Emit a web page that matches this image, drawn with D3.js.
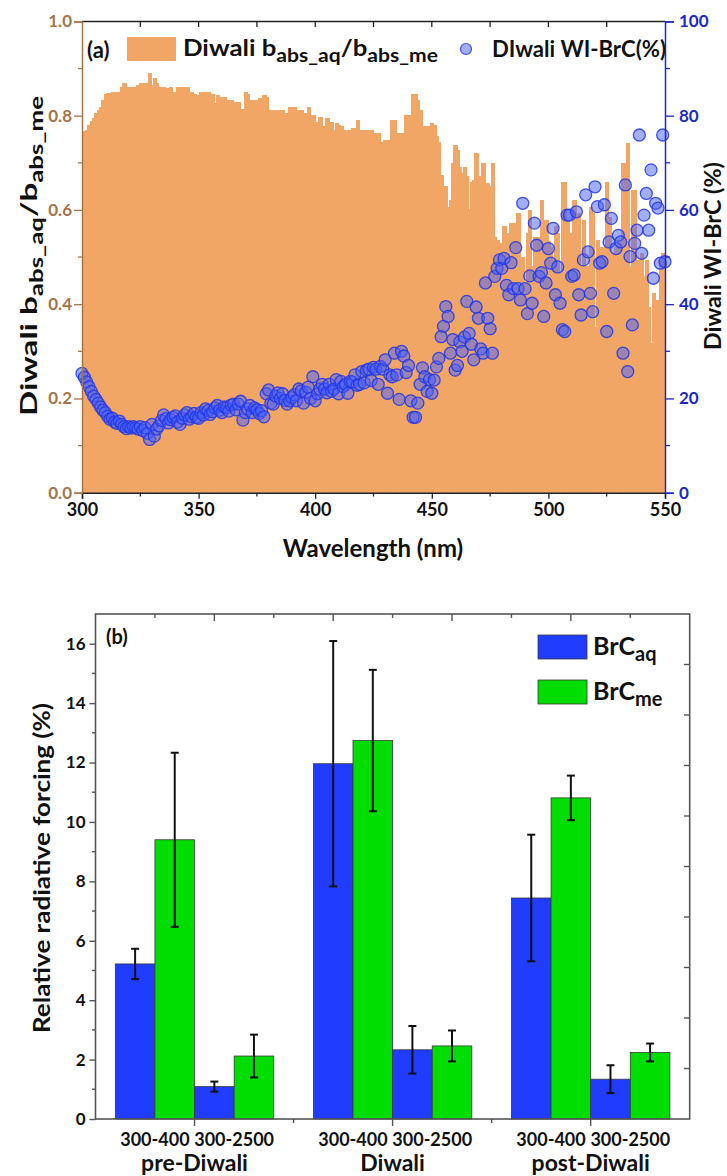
<!DOCTYPE html>
<html><head><meta charset="utf-8">
<script src="https://cdn.jsdelivr.net/npm/d3@7"></script>
<style>
body{margin:0;background:#fff}
text{font-family:Lato,'Open Sans',sans-serif;font-weight:700}
</style>
</head><body>
<svg id="c" width="727" height="1176"></svg>
<script>
// ---------- Panel (a) data ----------
const wavelengths = d3.range(300, 551); // 1 nm grid, 300–550 nm
const ratioAqMe = [
0.763,0.767,0.770,0.781,0.788,0.794,0.805,0.812,0.819,0.833,
0.847,0.849,0.849,0.851,0.849,0.851,0.851,0.861,0.870,0.861,
0.861,0.861,0.861,0.861,0.864,0.870,0.870,0.870,0.870,0.890,
0.864,0.879,0.870,0.861,0.861,0.861,0.858,0.844,0.861,0.851,
0.851,0.861,0.861,0.851,0.861,0.860,0.851,0.851,0.847,0.840,
0.844,0.851,0.844,0.851,0.851,0.847,0.847,0.826,0.844,0.826,
0.840,0.840,0.830,0.833,0.833,0.819,0.830,0.830,0.812,0.815,
0.851,0.847,0.833,0.833,0.833,0.833,0.837,0.837,0.844,0.840,
0.812,0.812,0.812,0.812,0.812,0.801,0.812,0.805,0.798,0.819,
0.819,0.819,0.812,0.812,0.812,0.805,0.805,0.819,0.784,0.801,
0.787,0.787,0.798,0.777,0.777,0.794,0.787,0.787,0.770,0.784,
0.780,0.777,0.770,0.770,0.770,0.763,0.774,0.774,0.791,0.770,
0.770,0.770,0.745,0.770,0.770,0.749,0.763,0.763,0.745,0.745,
0.749,0.749,0.721,0.791,0.791,0.749,0.763,0.763,0.702,0.801,
0.702,0.801,0.847,0.847,0.833,0.812,0.713,0.777,0.777,0.755,
0.784,0.780,0.756,0.745,0.674,0.650,0.650,0.607,0.621,0.699,
0.738,0.727,0.692,0.678,0.692,0.671,0.603,0.660,0.664,0.720,
0.671,0.611,0.699,0.565,0.657,0.650,0.699,0.543,0.536,0.529,
0.522,0.565,0.550,0.536,0.572,0.550,0.572,0.593,0.487,0.501,
0.444,0.550,0.600,0.480,0.543,0.522,0.543,0.621,0.536,0.579,
0.533,0.522,0.494,0.565,0.550,0.466,0.660,0.660,0.579,0.550,
0.459,0.621,0.522,0.593,0.480,0.579,0.423,0.480,0.607,0.593,
0.352,0.536,0.508,0.522,0.480,0.660,0.586,0.508,0.466,0.522,
0.536,0.480,0.699,0.600,0.741,0.480,0.642,0.642,0.494,0.246,
0.508,0.459,0.494,0.395,0.317,0.423,0.395,0.409,0.494,0.508,
0.508];
const wiBrC = [
25.3,24.5,23.5,22.5,21.5,20.5,19.8,19.0,18.2,17.5,
17.0,16.2,15.6,15.8,15.0,14.7,15.2,14.5,14.0,13.6,
14.0,13.7,14.0,13.8,13.5,14.0,13.2,13.8,12.6,11.3,
14.5,12.0,13.5,14.2,15.3,16.5,15.7,14.8,15.5,16.0,
16.3,15.0,14.5,15.8,16.5,17.0,15.6,16.1,16.8,16.0,
15.8,17.0,16.5,17.8,17.4,16.6,17.2,18.0,18.5,17.5,
17.0,18.2,18.0,17.3,18.6,18.8,17.6,18.8,19.4,15.4,
17.0,17.8,18.5,17.0,18.0,17.6,16.8,17.4,16.1,21.0,
21.8,19.0,18.8,20.5,21.2,20.0,21.0,19.6,18.8,19.5,
20.2,20.8,19.5,22.0,21.6,19.0,21.3,22.4,20.0,24.6,
19.5,21.0,22.0,23.0,22.0,21.2,23.0,21.5,22.0,24.0,
21.0,23.6,22.5,23.0,21.1,23.6,23.5,25.0,22.8,23.0,
25.7,23.3,26.0,26.2,23.8,26.6,26.2,23.0,26.8,26.2,
28.2,21.1,25.0,24.6,29.6,25.0,19.8,30.0,29.0,25.5,
27.0,19.5,16.0,16.0,19.0,23.0,26.5,24.6,21.5,24.0,
21.1,23.9,26.7,28.5,33.1,35.3,39.5,37.4,29.6,32.5,
26.0,27.0,32.0,30.0,33.0,40.6,33.8,31.5,28.2,39.4,
37.0,30.5,29.6,44.5,37.0,34.8,29.6,45.9,47.6,49.4,
47.6,49.7,44.0,42.0,48.8,43.3,52.0,43.3,40.9,61.4,
43.3,38.0,46.0,40.2,57.2,52.5,45.9,46.7,37.4,44.5,
51.8,48.7,56.1,42.0,47.9,40.2,34.6,34.2,58.9,58.9,
45.9,46.2,59.6,42.0,37.7,49.4,63.2,51.1,42.3,38.4,
64.9,60.7,48.7,49.0,61.1,34.2,53.2,58.2,42.3,51.8,
54.6,53.2,29.6,65.3,25.7,50.1,35.6,52.9,55.7,75.9,
50.8,58.9,63.5,55.7,68.5,45.5,61.4,60.4,48.7,75.9,
49.0];
const xTicksA = [300, 350, 400, 450, 500, 550];
const yTicksLeftA = [0, 0.2, 0.4, 0.6, 0.8, 1.0];
const yTicksRightA = [0, 20, 40, 60, 80, 100];

// ---------- Panel (b) data ----------
const periods = ["pre-Diwali", "Diwali", "post-Diwali"];
const bands = ["300-400", "300-2500"];
const aq400 = [5.22, 11.96, 7.44];
const aq400Err = [0.51, 4.13, 2.13];
const me400 = [9.40, 12.74, 10.81];
const me400Err = [2.93, 2.38, 0.75];
const aq2500 = [1.09, 2.33, 1.34];
const aq2500Err = [0.17, 0.80, 0.47];
const me2500 = [2.12, 2.46, 2.24];
const me2500Err = [0.72, 0.52, 0.30];
const yTicksB = [0, 2, 4, 6, 8, 10, 12, 14, 16];

const svg = d3.select("#c");
svg.append("rect").attr("width",727).attr("height",1176).attr("fill","#fff");

const ORANGE = "#f2a665", BROWN = "#a5764a", DBLUE = "#1c28c8";

// ================= Panel (a) =================
const xA = d3.scaleLinear().domain([300,550]).range([82,665]);
const yL = d3.scaleLinear().domain([0,1]).range([492.7,21.4]);
const yR = d3.scaleLinear().domain([0,100]).range([492.7,21.4]);

svg.append("clipPath").attr("id","clipA").append("rect")
  .attr("x",82).attr("y",21.4).attr("width",583).attr("height",471.3);

svg.append("g").attr("clip-path","url(#clipA)").attr("shape-rendering","crispEdges")
  .selectAll("rect").data(wavelengths).join("rect")
  .attr("x", d => Math.floor(xA(d-0.5)))
  .attr("width", d => Math.ceil(xA(d+0.5)) - Math.floor(xA(d-0.5)) + 1)
  .attr("y", (d,i) => yL(ratioAqMe[i]))
  .attr("height", (d,i) => yL(0) - yL(ratioAqMe[i]))
  .attr("fill", ORANGE);

svg.append("g").selectAll("circle").data(wavelengths).join("circle")
  .attr("cx", d => xA(d))
  .attr("cy", (d,i) => yR(wiBrC[i]))
  .attr("r", 6)
  .attr("fill", "rgba(70,95,255,0.5)")
  .attr("stroke", "rgba(35,55,225,0.85)")
  .attr("stroke-width", 1.3);

// top frame
svg.append("line").attr("x1",82).attr("x2",665).attr("y1",21.4).attr("y2",21.4)
  .attr("stroke","#222").attr("stroke-width",1.5);
svg.append("g").selectAll("line").data(d3.range(325,550,25)).join("line")
  .attr("x1",d=>xA(d)).attr("x2",d=>xA(d)).attr("y1",21.4).attr("y2",27)
  .attr("stroke","#222").attr("stroke-width",1.3);

// bottom axis
const gxA = svg.append("g").attr("transform","translate(0,492.7)")
  .call(d3.axisBottom(xA).tickValues(xTicksA).tickSize(6).tickPadding(5).tickFormat(d3.format("d")));
gxA.select(".domain").attr("stroke","#222").attr("stroke-width",1.5);
gxA.selectAll(".tick line").attr("stroke","#222").attr("stroke-width",1.3);
gxA.selectAll("text").attr("font-size",18).attr("fill","#111").attr("font-family","Lato").attr("font-weight",700);
svg.append("g").selectAll("line").data(d3.range(325,550,50)).join("line")
  .attr("x1",d=>xA(d)).attr("x2",d=>xA(d)).attr("y1",492.7).attr("y2",496.5)
  .attr("stroke","#222").attr("stroke-width",1.3);

// left axis
const gyL = svg.append("g").attr("transform","translate(82,0)")
  .call(d3.axisLeft(yL).tickValues(yTicksLeftA).tickSize(8).tickPadding(2).tickFormat(d3.format(".1f")));
gyL.select(".domain").attr("stroke",BROWN).attr("stroke-width",1.5);
gyL.selectAll(".tick line").attr("stroke",BROWN).attr("stroke-width",1.3);
gyL.selectAll("text").attr("font-size",17).attr("fill",BROWN).attr("font-family","Lato").attr("font-weight",700);
svg.append("g").selectAll("line").data([0.1,0.3,0.5,0.7,0.9]).join("line")
  .attr("x1",78).attr("x2",82).attr("y1",d=>yL(d)).attr("y2",d=>yL(d))
  .attr("stroke",BROWN).attr("stroke-width",1.3);

// right axis
const gyR = svg.append("g").attr("transform","translate(665,0)")
  .call(d3.axisRight(yR).tickValues(yTicksRightA).tickSize(9).tickPadding(5).tickFormat(d3.format("d")));
gyR.select(".domain").attr("stroke",DBLUE).attr("stroke-width",1.5);
gyR.selectAll(".tick line").attr("stroke",DBLUE).attr("stroke-width",1.3);
gyR.selectAll("text").attr("font-size",17).attr("fill",DBLUE).attr("font-family","Lato").attr("font-weight",700);
svg.append("g").selectAll("line").data([10,30,50,70,90]).join("line")
  .attr("x1",665).attr("x2",670).attr("y1",d=>yR(d)).attr("y2",d=>yR(d))
  .attr("stroke",DBLUE).attr("stroke-width",1.3);

// titles
svg.append("text").attr("x",373).attr("y",557).attr("text-anchor","middle")
  .attr("font-size",24).attr("fill","#111").text("Wavelength (nm)");

function subLabel(sel, parts, big, small, shift){
  parts.forEach(([t,sub], k) => {
    const ts = sel.append("tspan").text(t);
    if(sub){ ts.attr("font-size",small).attr("dy",shift); }
    else { ts.attr("font-size",big).attr("dy", k>0 ? -shift : 0); }
  });
}
const tl = svg.append("text").attr("transform","translate(37,256) rotate(-90)")
  .attr("text-anchor","middle").attr("fill","#111").attr("font-size",23)
  .attr("textLength",320).attr("lengthAdjust","spacingAndGlyphs");
subLabel(tl, [["Diwali b",0],["abs_aq",1],["/b",0],["abs_me",1]], 23, 18, 6);

svg.append("text").attr("transform","translate(721,256) rotate(-90)")
  .attr("text-anchor","middle").attr("fill","#111").attr("font-size",22)
  .attr("textLength",188).attr("lengthAdjust","spacingAndGlyphs")
  .text("Diwali WI-BrC (%)");

// legend (a)
svg.append("text").attr("x",87).attr("y",58).attr("font-size",22).attr("fill","#111").text("(a)");
svg.append("rect").attr("x",127).attr("y",37).attr("width",49).attr("height",24).attr("fill",ORANGE);
const lg = svg.append("text").attr("x",183).attr("y",56).attr("fill","#111").attr("font-size",22)
  .attr("textLength",255).attr("lengthAdjust","spacingAndGlyphs");
subLabel(lg, [["Diwali b",0],["abs_aq",1],["/b",0],["abs_me",1]], 22, 18, 6);
svg.append("circle").attr("cx",466).attr("cy",49).attr("r",5.5)
  .attr("fill","rgba(70,95,255,0.5)").attr("stroke","rgba(35,55,225,0.85)").attr("stroke-width",1.2);
svg.append("text").attr("x",492).attr("y",57).attr("font-size",22).attr("fill","#111")
  .attr("textLength",174).attr("lengthAdjust","spacingAndGlyphs").text("DIwali WI-BrC(%)");

// ================= Panel (b) =================
const xB = d3.scaleLinear().domain([0.5,3.5]).range([95.5,689.7]);
const yB = d3.scaleLinear().domain([0,17]).range([1119,614]);
const yB2 = d3.scaleLinear().domain([0,10]).range([1119,614]);
const xTop = d3.scaleLinear().domain([0,10]).range([95.5,689.7]);
const BLUE = "#1f3cff", GREEN = "#00dd00";

const rows = [];
periods.forEach((p,i) => {
  const c = i + 1;
  rows.push({x0:c-0.4, v:aq400[i], e:aq400Err[i], fill:BLUE});
  rows.push({x0:c-0.2, v:me400[i], e:me400Err[i], fill:GREEN});
  rows.push({x0:c,     v:aq2500[i], e:aq2500Err[i], fill:BLUE});
  rows.push({x0:c+0.2, v:me2500[i], e:me2500Err[i], fill:GREEN});
});

svg.append("g").selectAll("rect").data(rows).join("rect")
  .attr("x", d => xB(d.x0)).attr("width", d => xB(d.x0+0.2)-xB(d.x0))
  .attr("y", d => yB(d.v)).attr("height", d => yB(0)-yB(d.v))
  .attr("fill", d => d.fill).attr("stroke","#3a3a3a").attr("stroke-width",0.8);

const eg = svg.append("g").attr("stroke","#111").attr("stroke-width",2);
rows.forEach(d => {
  const cx = xB(d.x0+0.1);
  eg.append("line").attr("x1",cx).attr("x2",cx).attr("y1",yB(d.v+d.e)).attr("y2",yB(d.v-d.e));
  eg.append("line").attr("x1",cx-4).attr("x2",cx+4).attr("y1",yB(d.v+d.e)).attr("y2",yB(d.v+d.e));
  eg.append("line").attr("x1",cx-4).attr("x2",cx+4).attr("y1",yB(d.v-d.e)).attr("y2",yB(d.v-d.e));
});

// frame
svg.append("rect").attr("x",95.5).attr("y",614).attr("width",689.7-95.5).attr("height",1119-614)
  .attr("fill","none").attr("stroke","#555").attr("stroke-width",1.6);

// left axis
const gyB = svg.append("g").attr("transform","translate(95.5,0)")
  .call(d3.axisLeft(yB).tickValues(yTicksB).tickSize(6).tickPadding(4).tickFormat(d3.format("d")));
gyB.select(".domain").remove();
gyB.selectAll(".tick line").attr("stroke","#555").attr("stroke-width",1.4);
gyB.selectAll("text").attr("font-size",17).attr("fill","#111").attr("font-family","Lato").attr("font-weight",700);
svg.append("g").selectAll("line").data(d3.range(1,17,2)).join("line")
  .attr("x1",92).attr("x2",95.5).attr("y1",d=>yB(d)).attr("y2",d=>yB(d))
  .attr("stroke","#555").attr("stroke-width",1.4);

// right inward ticks
svg.append("g").selectAll("line").data(d3.range(1,10)).join("line")
  .attr("x1",689.7).attr("x2",684).attr("y1",d=>yB2(d)).attr("y2",d=>yB2(d))
  .attr("stroke","#555").attr("stroke-width",1.4);
// top inward ticks
svg.append("g").selectAll("line").data(d3.range(1,10)).join("line")
  .attr("x1",d=>xTop(d)).attr("x2",d=>xTop(d)).attr("y1",614).attr("y2",d=> d%2===0 ? 621 : 618)
  .attr("stroke","#555").attr("stroke-width",1.4);
// bottom ticks
svg.append("g").selectAll("line").data([1,2,3]).join("line")
  .attr("x1",d=>xB(d)).attr("x2",d=>xB(d)).attr("y1",1119).attr("y2",1126)
  .attr("stroke","#555").attr("stroke-width",1.4);
svg.append("g").selectAll("line").data([1.5,2.5]).join("line")
  .attr("x1",d=>xB(d)).attr("x2",d=>xB(d)).attr("y1",1119).attr("y2",1123)
  .attr("stroke","#555").attr("stroke-width",1.4);

// category labels
periods.forEach((p,i) => {
  const c = i + 1;
  bands.forEach((b,j) => {
    svg.append("text").attr("x", xB(c + (j===0 ? -0.2 : 0.2))).attr("y",1146)
      .attr("text-anchor","middle").attr("font-size",18).attr("fill","#111").text(b);
  });
  svg.append("text").attr("x", xB(c)).attr("y",1171).attr("text-anchor","middle")
    .attr("font-size",23).attr("fill","#111").text(p);
});

svg.append("text").attr("x",106).attr("y",644).attr("font-size",20).attr("fill","#111").text("(b)");
svg.append("text").attr("transform","translate(50,868) rotate(-90)").attr("text-anchor","middle")
  .attr("font-size",23).attr("fill","#111")
  .attr("textLength",330).attr("lengthAdjust","spacingAndGlyphs")
  .text("Relative radiative forcing (%)");

// legend (b)
[["aq",BLUE,635],["me",GREEN,680]].forEach(([s,col,y]) => {
  svg.append("rect").attr("x",538).attr("y",y).attr("width",49).attr("height",24)
    .attr("fill",col).attr("stroke","#3a3a3a").attr("stroke-width",0.8);
  const t = svg.append("text").attr("x",593).attr("y",y+20).attr("fill","#111");
  t.append("tspan").attr("font-size",25).text("BrC");
  t.append("tspan").attr("font-size",20).attr("dy",6).text(s);
});
</script>
</body></html>
